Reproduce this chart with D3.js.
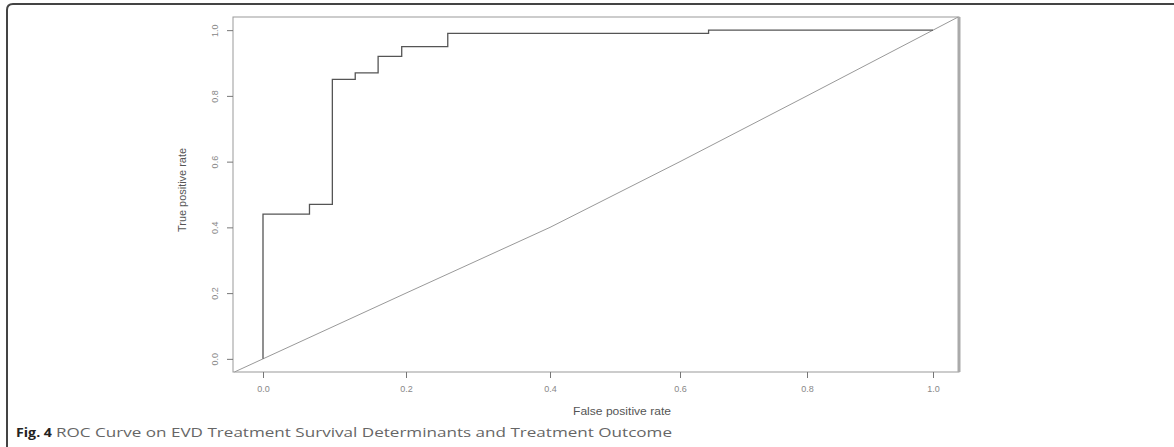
<!DOCTYPE html>
<html>
<head>
<meta charset="utf-8">
<script src="https://cdn.jsdelivr.net/npm/d3@7"></script>
<style>
  body { margin: 0; background: #fff; }
  svg { display: block; }
</style>
</head>
<body>
<div id="chart"></div>
<script>
// ROC curve points (false positive rate, true positive rate)
const fpr = [0, 0, 0.065, 0.097, 0.129, 0.161, 0.194, 0.258, 0.645, 1.0];
const tpr = [0, 0.44, 0.47, 0.85, 0.87, 0.92, 0.95, 0.99, 1.0, 1.0];
// chance line y = x, across the whole plotting region
const diagonal = [-0.04, 0, 0.2, 0.4, 0.6, 0.8, 1.0, 1.04];
const xTicks = [0, 0.2, 0.4, 0.6, 0.8, 1.0];
const yTicks = [0, 0.2, 0.4, 0.6, 0.8, 1.0];

const W = 1174, H = 447;
const plot = {left: 233, right: 959, top: 17, bottom: 372};

const svg = d3.select("#chart")
    .append("svg")
    .attr("width", W)
    .attr("height", H);

// the scanned figure is stretched unevenly, so map each tick to its pixel
const x = d3.scaleLinear()
    .domain(xTicks)
    .range([263, 406, 550, 680, 807, 933]);

const y = d3.scaleLinear()
    .domain([-0.04, 1.04])
    .range([plot.bottom, plot.top]);

// outer figure frame (top and left edge)
svg.append("path")
    .attr("d", `M7,${H} L7,10 Q7,4 13,4 L${W},4`)
    .attr("fill", "none")
    .attr("stroke", "#444")
    .attr("stroke-width", 2);

// plot box
svg.append("rect")
    .attr("x", plot.left)
    .attr("y", plot.top)
    .attr("width", plot.right - plot.left)
    .attr("height", plot.bottom - plot.top)
    .attr("fill", "none")
    .attr("stroke", "#999")
    .attr("stroke-width", 1);
svg.append("line")
    .attr("x1", plot.right).attr("x2", plot.right)
    .attr("y1", plot.top).attr("y2", plot.bottom)
    .attr("stroke", "#aaa")
    .attr("stroke-width", 3);

// axes
const xAxis = svg.append("g")
    .attr("transform", `translate(0,${plot.bottom})`)
    .call(d3.axisBottom(x).tickValues(xTicks).tickSize(6).tickPadding(8)
        .tickFormat(d3.format(".1f")));
xAxis.select(".domain").remove();

const yAxis = svg.append("g")
    .attr("transform", `translate(${plot.left},0)`)
    .call(d3.axisLeft(y).tickValues(yTicks).tickSize(6).tickPadding(0)
        .tickFormat(d3.format(".1f")));
yAxis.select(".domain").remove();

svg.selectAll(".tick line").attr("stroke", "#777");
xAxis.selectAll(".tick text")
    .attr("fill", "#888")
    .style("font", "9px 'Liberation Sans', Arial, sans-serif");
yAxis.selectAll(".tick text")
    .attr("fill", "#888")
    .attr("text-anchor", "middle")
    .attr("transform", "translate(-18,0) rotate(-90)")
    .attr("x", 0)
    .attr("dy", "0.32em")
    .style("font", "9px 'Liberation Sans', Arial, sans-serif");

// chance line
const line = d3.line().x((d) => x(d[0])).y((d) => y(d[1]));
svg.append("path")
    .datum(diagonal.map((d) => [d, d]))
    .attr("d", line)
    .attr("fill", "none")
    .attr("stroke", "#999")
    .attr("stroke-width", 1);

// ROC step curve
const roc = fpr.map((d, i) => [d, tpr[i]]);
svg.append("path")
    .datum(roc)
    .attr("d", d3.line().x((d) => x(d[0])).y((d) => y(d[1])).curve(d3.curveStepAfter))
    .attr("fill", "none")
    .attr("stroke", "#555")
    .attr("stroke-width", 1.3);

// axis titles
svg.append("text")
    .attr("x", 622)
    .attr("y", 415)
    .attr("text-anchor", "middle")
    .attr("fill", "#555")
    .style("font", "10px 'Liberation Sans', Arial, sans-serif")
    .attr("textLength", 98)
    .attr("lengthAdjust", "spacingAndGlyphs")
    .text("False positive rate");

svg.append("text")
    .attr("transform", "translate(186,190) rotate(-90)")
    .attr("text-anchor", "middle")
    .attr("fill", "#555")
    .style("font", "10px 'Liberation Sans', Arial, sans-serif")
    .attr("textLength", 84)
    .attr("lengthAdjust", "spacingAndGlyphs")
    .text("True positive rate");

// caption
svg.append("text")
    .attr("x", 16)
    .attr("y", 437)
    .attr("fill", "#222")
    .style("font", "bold 12px 'Open Sans', sans-serif")
    .attr("textLength", 36)
    .attr("lengthAdjust", "spacingAndGlyphs")
    .text("Fig. 4");

svg.append("text")
    .attr("x", 56)
    .attr("y", 437)
    .attr("fill", "#666")
    .style("font", "12px 'Open Sans', sans-serif")
    .attr("textLength", 616)
    .attr("lengthAdjust", "spacingAndGlyphs")
    .text("ROC Curve on EVD Treatment Survival Determinants and Treatment Outcome");
</script>
</body>
</html>
